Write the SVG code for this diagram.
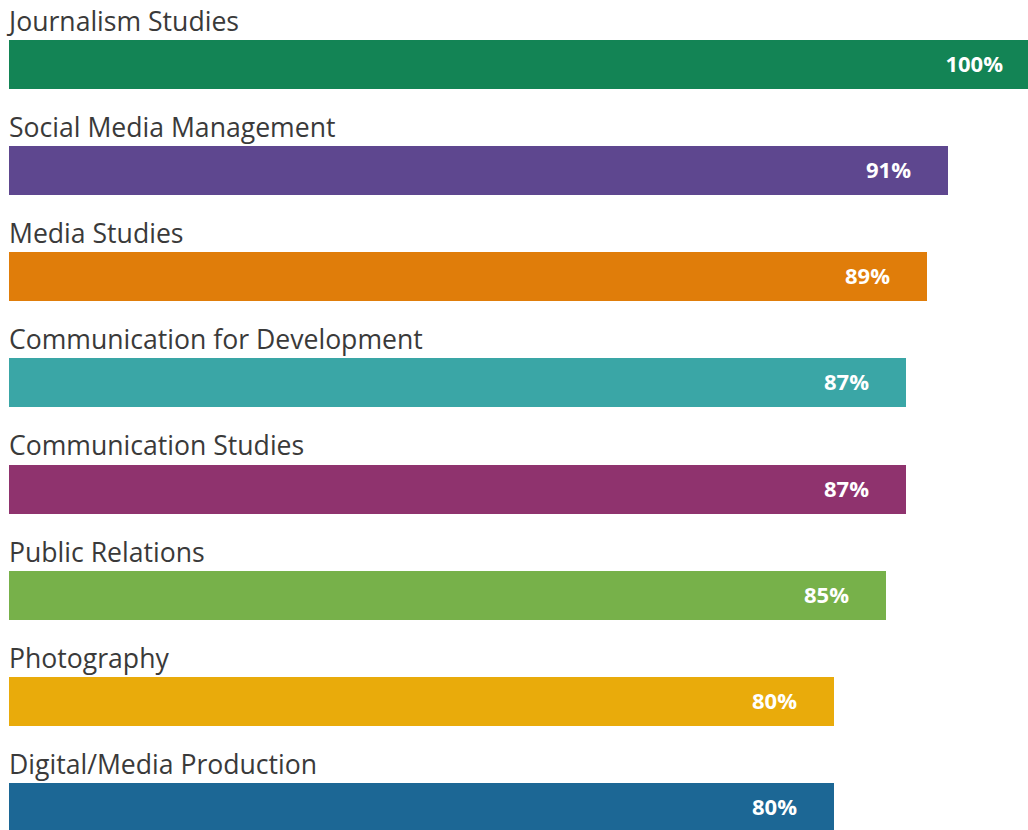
<svg xmlns="http://www.w3.org/2000/svg" width="1028" height="830" viewBox="0 0 1028 830">
<style>
.lbl{font-family:"Open Sans","Noto Sans",sans-serif;font-size:26.6px;fill:#3a3a3a}
.pct{font-family:"Open Sans","Noto Sans",sans-serif;font-size:22px;font-weight:bold;fill:#ffffff;text-anchor:end}
</style>
<rect width="1028" height="830" fill="#ffffff"/>
<g id="journalism"><text class="lbl" x="9" y="31">Journalism Studies</text><rect x="9" y="40" width="1019" height="49" fill="#138455"/><text class="pct" x="1003" y="72">100%</text></g>
<g id="social"><text class="lbl" x="9" y="137">Social Media Management</text><rect x="9" y="146" width="939" height="49" fill="#5e478f"/><text class="pct" x="911" y="178">91%</text></g>
<g id="media"><text class="lbl" x="9" y="243">Media Studies</text><rect x="9" y="252" width="918" height="49" fill="#e07d0a"/><text class="pct" x="890" y="284">89%</text></g>
<g id="commdev"><text class="lbl" x="9" y="349">Communication for Development</text><rect x="9" y="358" width="897" height="49" fill="#3aa6a6"/><text class="pct" x="869" y="390">87%</text></g>
<g id="commstudies"><text class="lbl" x="9" y="455">Communication Studies</text><rect x="9" y="465" width="897" height="49" fill="#8f336e"/><text class="pct" x="869" y="497">87%</text></g>
<g id="pr"><text class="lbl" x="9" y="562">Public Relations</text><rect x="9" y="571" width="877" height="49" fill="#77b14a"/><text class="pct" x="849" y="603">85%</text></g>
<g id="photo"><text class="lbl" x="9" y="668">Photography</text><rect x="9" y="677" width="825" height="49" fill="#e9ab0b"/><text class="pct" x="797" y="709">80%</text></g>
<g id="digital"><text class="lbl" x="9" y="774">Digital/Media Production</text><rect x="9" y="783" width="825" height="47" fill="#1c6795"/><text class="pct" x="797" y="815">80%</text></g>
<g id="connectors"/>
</svg>
